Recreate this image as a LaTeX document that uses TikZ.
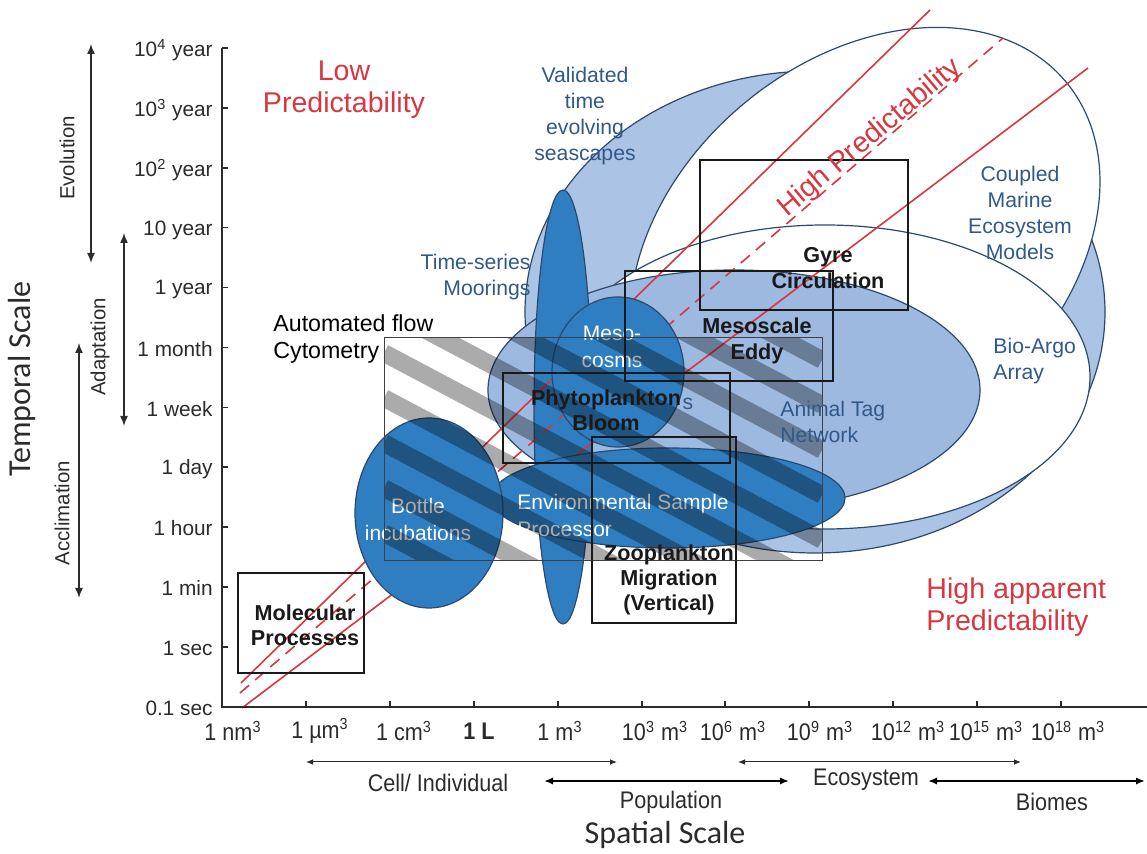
\documentclass[tikz,border=0pt]{standalone}
\usepackage{fontspec}
\setmainfont{Liberation Sans}
\newfontfamily\narrowfont{Liberation Sans}[FakeStretch=0.9]
\newfontfamily\calibrifont{Carlito}
\usetikzlibrary{arrows.meta}

\definecolor{seablue}{HTML}{2F7EC1}
\definecolor{palesea}{HTML}{ABC3E4}
\definecolor{tagblue}{HTML}{9DB9E0}
\definecolor{rimblue}{HTML}{2C4A6E}
\definecolor{inkblue}{HTML}{30598A}
\definecolor{predred}{HTML}{D63740}
\definecolor{axisgray}{HTML}{2B2B2B}

\tikzset{
  paleshape/.style={fill=palesea, draw=rimblue, line width=0.6pt},
  whiteshape/.style={fill=white, draw=rimblue, line width=0.6pt},
  tagshape/.style={fill=tagblue, draw=rimblue, line width=0.6pt},
  darkshape/.style={fill=seablue, draw=rimblue, line width=0.6pt},
  predline/.style={draw=predred, line width=0.8pt},
  stripe/.style={draw=black, opacity=0.33, line width=8.8pt},
  hatchrim/.style={draw=black!75, line width=0.5pt},
  scalebox/.style={draw=black!90, line width=0.7pt},
  ticklabel/.style={font=\fontsize{10.4}{12}\selectfont, text=axisgray, anchor=east, inner sep=0pt},
  sizelabel/.style={font=\narrowfont\fontsize{12}{14}\selectfont, text=axisgray, inner sep=0pt},
  spanlabel/.style={font=\narrowfont\fontsize{12}{14}\selectfont, text=axisgray, inner sep=0pt},
  rangelabel/.style={font=\fontsize{10.2}{12}\selectfont, text=axisgray, rotate=90, inner sep=0pt},
  scaletitle/.style={font=\calibrifont\fontsize{16}{19}\selectfont, text=axisgray, inner sep=0pt},
  toolname/.style={font=\fontsize{10.6}{13}\selectfont, text=inkblue, align=center, inner sep=0pt},
  whitename/.style={font=\fontsize{10.5}{13.5}\selectfont, text=white, align=center, inner sep=0pt},
  processname/.style={font=\bfseries\fontsize{10.8}{12.6}\selectfont, text=black!90, align=center, inner sep=0pt},
  predlabel/.style={font=\fontsize{14.3}{16}\selectfont, text=predred, inner sep=0pt},
  rangearrow/.style={draw=axisgray, line width=0.75pt, >={Latex[length=5pt,width=4pt]}, <->},
  spanarrow/.style={draw=axisgray, line width=0.5pt, >={Latex[length=3.5pt,width=2.8pt]}, <->},
  widearrow/.style={draw=black, line width=1pt, >={Latex[length=4.5pt,width=3.6pt]}, <->}
}

\begin{document}
\begin{tikzpicture}[x=0.5pt,y=-0.5pt]
\useasboundingbox (0,0) rectangle (1147,854);
{

% Drawing ellipse of the seascapes
\draw[paleshape] (815,312) ellipse [x radius=290, y radius=241];%

% Drawing ellipse of the coupled models
\draw[whiteshape, rotate around={40:(865,250)}] (865,250) ellipse [x radius=262, y radius=190];%

% Drawing ellipse of the float array
\draw[whiteshape] (825,377) ellipse [x radius=265, y radius=152];%

% Drawing ellipse of the tag network
\draw[tagshape] (734,390) ellipse [x radius=246, y radius=120];%

% Drawing ellipse of the moorings
\draw[darkshape] (563,407) ellipse [x radius=29, y radius=217];%

% Drawing predictability lines
\draw[predline] (241,683) -- (930,10);%
\draw[predline, dash pattern=on 6pt off 4pt] (240,693) -- (1003,38);%
\draw[predline] (242,708) -- (1088,68);%

% Drawing ellipse of the sample processor
\draw[darkshape] (668,498) ellipse [x radius=177, y radius=50];%

% Drawing ellipse of the bottles
\draw[darkshape] (429,513) ellipse [x radius=74, y radius=95];%

% Drawing ellipse of the mesocosms
\draw[darkshape] (618,372) ellipse [x radius=66, y radius=75];%

% Marking labels in the dark shapes
\node[whitename] (bottle) at (418,519) {Bottle\\incubations};%
\node[whitename, anchor=west, align=left] (esp) at (517,516) {Environmental Sample\\Processor};%
\node[whitename] (meso) at (612,347) {Meso-\\cosms};%

% Drawing stripes of the flow cytometry
\begin{scope}
\clip (384,338) rectangle (822,561);
\draw[stripe] (384,128) -- (822,360);%
\draw[stripe] (384,173) -- (822,405);%
\draw[stripe] (384,218) -- (822,450);%
\draw[stripe] (384,263) -- (822,495);%
\draw[stripe] (384,308) -- (822,540);%
\draw[stripe] (384,353) -- (822,585);%
\draw[stripe] (384,398) -- (822,630);%
\draw[stripe] (384,443) -- (822,675);%
\draw[stripe] (384,488) -- (822,720);%
\draw[stripe] (384,533) -- (822,765);%
\end{scope}
\draw[hatchrim] (384,338) rectangle (822,561);%

% Drawing process boxes
\draw[scalebox] (700,160) rectangle (908,310);%
\draw[scalebox] (625,271) rectangle (833,381);%
\draw[scalebox] (503,373) rectangle (730,463);%
\draw[scalebox] (592,437) rectangle (736,623);%
\draw[scalebox] (238,573) rectangle (364,673);%

% Marking process labels
\node[processname] (gyre) at (828,268) {Gyre\\Circulation};%
\node[processname] (eddy) at (757,341) {Mesoscale\\Eddy};%
\node[processname] (bloom) at (606,410) {Phytoplankton\\Bloom};%
\node[toolname] (blooms) at (688,404) {s};%
\node[processname] (zoo) at (669,580) {Zooplankton\\Migration\\(Vertical)};%
\node[processname] (molecular) at (305,625) {Molecular\\Processes};%

% Marking tool labels
\node[toolname] (seascape) at (585,116) {Validated\\time\\evolving\\seascapes};%
\node[toolname, anchor=east, align=right] (mooring) at (531,277) {Time-series\\Moorings};%
\node[toolname] (models) at (1020,213) {Coupled\\Marine\\Ecosystem\\Models};%
\node[toolname, anchor=west, align=left] (argo) at (993,361) {Bio-Argo\\Array};%
\node[toolname, anchor=west, align=left] (tags) at (780,422) {Animal Tag\\Network};%
\node[font=\fontsize{11.6}{13.5}\selectfont, anchor=west, align=left, inner sep=0pt] (cytometry) at (273,339) {Automated flow\\Cytometry};%

% Marking predictability labels
\node[predlabel, align=center] (lowpred) at (344,90) {Low\\Predictability};%
\node[predlabel, rotate=40] (highpred) at (870,138) {High Predictability};%
\node[predlabel, anchor=west, align=left] (apppred) at (926,607) {High apparent\\Predictability};%

% Drawing axes
\draw[draw=axisgray, line width=1pt] (222,48) -- (222,707) -- (1147,707);%

% Drawing ticks of the time axis
\draw[draw=axisgray, line width=0.8pt] (222,48.0) -- (228,48.0);%
\draw[draw=axisgray, line width=0.8pt] (222,107.9) -- (228,107.9);%
\draw[draw=axisgray, line width=0.8pt] (222,167.8) -- (228,167.8);%
\draw[draw=axisgray, line width=0.8pt] (222,227.7) -- (228,227.7);%
\draw[draw=axisgray, line width=0.8pt] (222,287.6) -- (228,287.6);%
\draw[draw=axisgray, line width=0.8pt] (222,347.5) -- (228,347.5);%
\draw[draw=axisgray, line width=0.8pt] (222,407.4) -- (228,407.4);%
\draw[draw=axisgray, line width=0.8pt] (222,467.3) -- (228,467.3);%
\draw[draw=axisgray, line width=0.8pt] (222,527.2) -- (228,527.2);%
\draw[draw=axisgray, line width=0.8pt] (222,587.1) -- (228,587.1);%
\draw[draw=axisgray, line width=0.8pt] (222,647.0) -- (228,647.0);%

% Drawing ticks of the size axis
\draw[draw=axisgray, line width=0.8pt] (306,707) -- (306,701);%
\draw[draw=axisgray, line width=0.8pt] (390,707) -- (390,701);%
\draw[draw=axisgray, line width=0.8pt] (474,707) -- (474,701);%
\draw[draw=axisgray, line width=0.8pt] (558,707) -- (558,701);%
\draw[draw=axisgray, line width=0.8pt] (642,707) -- (642,701);%
\draw[draw=axisgray, line width=0.8pt] (725,707) -- (725,701);%
\draw[draw=axisgray, line width=0.8pt] (809,707) -- (809,701);%
\draw[draw=axisgray, line width=0.8pt] (893,707) -- (893,701);%
\draw[draw=axisgray, line width=0.8pt] (977,707) -- (977,701);%
\draw[draw=axisgray, line width=0.8pt] (1061,707) -- (1061,701);%

% Marking time labels
\node[ticklabel] (t10k) at (213,50) {10\textsuperscript{4} year};%
\node[ticklabel] (t1k) at (213,110) {10\textsuperscript{3} year};%
\node[ticklabel] (t100) at (213,170) {10\textsuperscript{2} year};%
\node[ticklabel] (t10) at (213,230) {10 year};%
\node[ticklabel] (t1y) at (213,290) {1 year};%
\node[ticklabel] (t1mo) at (213,349) {1 month};%
\node[ticklabel] (t1wk) at (213,409) {1 week};%
\node[ticklabel] (t1d) at (213,469) {1 day};%
\node[ticklabel] (t1h) at (213,528) {1 hour};%
\node[ticklabel] (t1min) at (213,588) {1 min};%
\node[ticklabel] (t1s) at (213,648) {1 sec};%
\node[ticklabel] (t01s) at (213,708) {0.1 sec};%

% Marking size labels
\node[sizelabel] (s1nm) at (233,731) {1 nm\textsuperscript{3}};%
\node[sizelabel] (s1um) at (320,731) {1 µm\textsuperscript{3}};%
\node[sizelabel] (s1cm) at (404,731) {1 cm\textsuperscript{3}};%
\node[sizelabel] (s1L) at (479,731) {\bfseries 1 L};%
\node[sizelabel] (s1m) at (560,731) {1 m\textsuperscript{3}};%
\node[sizelabel] (s1e3) at (655,731) {10\textsuperscript{3} m\textsuperscript{3}};%
\node[sizelabel] (s1e6) at (733,731) {10\textsuperscript{6} m\textsuperscript{3}};%
\node[sizelabel] (s1e9) at (820,731) {10\textsuperscript{9} m\textsuperscript{3}};%
\node[sizelabel] (s1e12) at (908,731) {10\textsuperscript{12} m\textsuperscript{3}};%
\node[sizelabel] (s1e15) at (986,731) {10\textsuperscript{15} m\textsuperscript{3}};%
\node[sizelabel] (s1e18) at (1068,731) {10\textsuperscript{18} m\textsuperscript{3}};%

% Drawing ranges of the time axis
\coordinate (evotop) at (91,44);
\coordinate (evobot) at (91,263);
\coordinate (adatop) at (124,233);
\coordinate (adabot) at (124,426);
\coordinate (acctop) at (79,343);
\coordinate (accbot) at (79,598);
\draw[rangearrow] (evotop) -- (evobot);%
\draw[rangearrow] (adatop) -- (adabot);%
\draw[rangearrow] (acctop) -- (accbot);%
\node[rangelabel] (evolution) at (67,158) {Evolution};%
\node[rangelabel] (adaptation) at (100,347) {Adaptation};%
\node[rangelabel] (acclimation) at (62,513) {Acclimation};%

% Drawing ranges of the size axis
\coordinate (cellleft) at (306,762);
\coordinate (cellright) at (617,762);
\coordinate (ecoleft) at (738,762);
\coordinate (ecoright) at (1021,762);
\coordinate (popleft) at (544,781);
\coordinate (popright) at (789,781);
\coordinate (biomleft) at (928,781);
\coordinate (biomright) at (1145,781);
\draw[spanarrow] (cellleft) -- (cellright);%
\draw[spanarrow] (ecoleft) -- (ecoright);%
\draw[widearrow] (popleft) -- (popright);%
\draw[widearrow] (biomleft) -- (biomright);%
\node[spanlabel] (cell) at (438,783) {Cell/ Individual};%
\node[spanlabel] (population) at (671,802) {Population};%
\node[spanlabel] (ecosystem) at (866,780) {Ecosystem};%
\node[spanlabel] (biomes) at (1052,802) {Biomes};%

% Marking axis titles
\node[scaletitle] (spatial) at (665,835) {Spatial Scale};%
\node[scaletitle, rotate=90] (temporal) at (22,379) {Temporal Scale};%
}
\end{tikzpicture}
\end{document}
